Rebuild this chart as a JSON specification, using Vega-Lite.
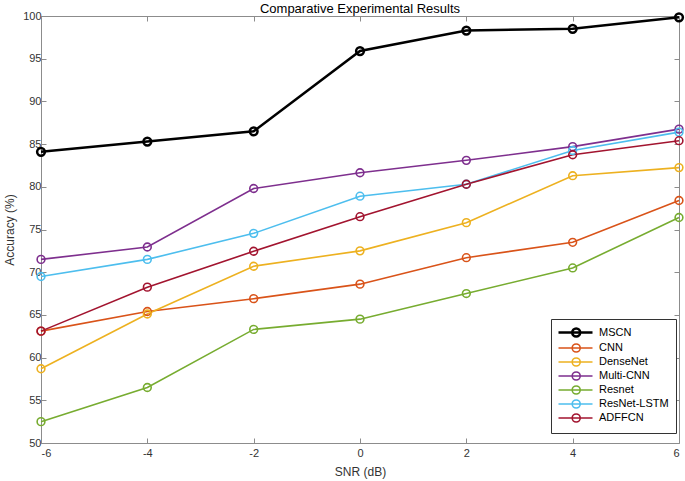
{
  "$schema": "https://vega.github.io/schema/vega-lite/v6.json",
  "autosize": {"type": "none"},
  "width": 638,
  "height": 427,
  "padding": {"left": 41, "top": 16, "right": 6, "bottom": 38},
  "title": {"text": "Comparative Experimental Results", "fontSize": 13, "fontWeight": "normal", "font": "Liberation Sans", "color": "#000000", "offset": -8},
  "config": {
    "font": "Liberation Sans",
    "view": {"stroke": null},
    "axis": {"grid": false, "domainColor": "#8c8c8c", "tickColor": "#8c8c8c", "labelColor": "#333333", "titleColor": "#333333", "labelFontSize": 11, "titleFontSize": 12, "titleFontWeight": "normal", "tickSize": -5, "labelPadding": 5}
  },
  "data": {"values": [
    {"snr": -6, "acc": 84.1, "model": "MSCN"},
    {"snr": -4, "acc": 85.3, "model": "MSCN"},
    {"snr": -2, "acc": 86.5, "model": "MSCN"},
    {"snr": 0, "acc": 95.9, "model": "MSCN"},
    {"snr": 2, "acc": 98.3, "model": "MSCN"},
    {"snr": 4, "acc": 98.5, "model": "MSCN"},
    {"snr": 6, "acc": 99.85, "model": "MSCN"},
    {"snr": -6, "acc": 63.1, "model": "CNN"},
    {"snr": -4, "acc": 65.4, "model": "CNN"},
    {"snr": -2, "acc": 66.9, "model": "CNN"},
    {"snr": 0, "acc": 68.6, "model": "CNN"},
    {"snr": 2, "acc": 71.7, "model": "CNN"},
    {"snr": 4, "acc": 73.5, "model": "CNN"},
    {"snr": 6, "acc": 78.4, "model": "CNN"},
    {"snr": -6, "acc": 58.7, "model": "DenseNet"},
    {"snr": -4, "acc": 65.1, "model": "DenseNet"},
    {"snr": -2, "acc": 70.7, "model": "DenseNet"},
    {"snr": 0, "acc": 72.5, "model": "DenseNet"},
    {"snr": 2, "acc": 75.8, "model": "DenseNet"},
    {"snr": 4, "acc": 81.3, "model": "DenseNet"},
    {"snr": 6, "acc": 82.25, "model": "DenseNet"},
    {"snr": -6, "acc": 71.5, "model": "Multi-CNN"},
    {"snr": -4, "acc": 72.95, "model": "Multi-CNN"},
    {"snr": -2, "acc": 79.8, "model": "Multi-CNN"},
    {"snr": 0, "acc": 81.65, "model": "Multi-CNN"},
    {"snr": 2, "acc": 83.1, "model": "Multi-CNN"},
    {"snr": 4, "acc": 84.7, "model": "Multi-CNN"},
    {"snr": 6, "acc": 86.75, "model": "Multi-CNN"},
    {"snr": -6, "acc": 52.5, "model": "Resnet"},
    {"snr": -4, "acc": 56.5, "model": "Resnet"},
    {"snr": -2, "acc": 63.3, "model": "Resnet"},
    {"snr": 0, "acc": 64.5, "model": "Resnet"},
    {"snr": 2, "acc": 67.5, "model": "Resnet"},
    {"snr": 4, "acc": 70.5, "model": "Resnet"},
    {"snr": 6, "acc": 76.4, "model": "Resnet"},
    {"snr": -6, "acc": 69.5, "model": "ResNet-LSTM"},
    {"snr": -4, "acc": 71.5, "model": "ResNet-LSTM"},
    {"snr": -2, "acc": 74.55, "model": "ResNet-LSTM"},
    {"snr": 0, "acc": 78.9, "model": "ResNet-LSTM"},
    {"snr": 2, "acc": 80.3, "model": "ResNet-LSTM"},
    {"snr": 4, "acc": 84.25, "model": "ResNet-LSTM"},
    {"snr": 6, "acc": 86.4, "model": "ResNet-LSTM"},
    {"snr": -6, "acc": 63.1, "model": "ADFFCN"},
    {"snr": -4, "acc": 68.25, "model": "ADFFCN"},
    {"snr": -2, "acc": 72.45, "model": "ADFFCN"},
    {"snr": 0, "acc": 76.5, "model": "ADFFCN"},
    {"snr": 2, "acc": 80.3, "model": "ADFFCN"},
    {"snr": 4, "acc": 83.75, "model": "ADFFCN"},
    {"snr": 6, "acc": 85.4, "model": "ADFFCN"}
  ]},
  "encoding": {
    "x": {"field": "snr", "type": "quantitative", "scale": {"domain": [-6, 6], "nice": false, "zero": false}},
    "y": {"field": "acc", "type": "quantitative", "scale": {"domain": [50, 100], "nice": false, "zero": false}},
    "color": {"field": "model", "type": "nominal", "sort": null,
      "scale": {"domain": ["MSCN", "CNN", "DenseNet", "Multi-CNN", "Resnet", "ResNet-LSTM", "ADFFCN"],
                "range": ["#000000", "#D95319", "#EDB120", "#7E2F8E", "#77AC30", "#4DBEEE", "#A2142F"]}},
    "strokeWidth": {"field": "model", "type": "nominal", "legend": null,
      "scale": {"type": "ordinal", "domain": ["MSCN", "CNN", "DenseNet", "Multi-CNN", "Resnet", "ResNet-LSTM", "ADFFCN"],
                "range": [2.5, 1.6, 1.6, 1.6, 1.6, 1.6, 1.6]}}
  },
  "layer": [
    {
      "mark": {"type": "line"},
      "encoding": {
        "x": {"field": "snr", "type": "quantitative", "title": "SNR (dB)",
          "axis": {"values": [-6, -4, -2, 0, 2, 4, 6], "labelExpr": "replace(datum.label, '−', '-')", "labelPadding": 9, "titlePadding": 8}},
        "y": {"field": "acc", "type": "quantitative", "title": "Accuracy (%)",
          "axis": {"values": [50, 55, 60, 65, 70, 75, 80, 85, 90, 95, 100], "titlePadding": 6}},
        "color": {"field": "model", "type": "nominal", "sort": null,
          "legend": {"title": null, "orient": "none", "legendX": 510, "legendY": 303,
            "fillColor": "#ffffff", "strokeColor": "#333333", "padding": 7,
            "symbolType": "M-1.2,0L5.6,0M1.54,0A0.8,0.8 0 1,0 3.14,0A0.8,0.8 0 1,0 1.54,0",
            "symbolSize": 100, "symbolStrokeWidth": 1.5, "symbolFillColor": "transparent",
            "labelOffset": 28, "labelFontSize": 11, "labelColor": "#000000", "rowPadding": -3.1, "symbolOffset": 0}}
      }
    },
    {
      "mark": {"type": "point", "filled": false, "size": 60, "opacity": 1},
      "encoding": {
        "x": {"field": "snr", "type": "quantitative", "axis": {"orient": "top", "labels": false, "title": null, "values": [-6, -4, -2, 0, 2, 4, 6]}},
        "y": {"field": "acc", "type": "quantitative", "axis": {"orient": "right", "labels": false, "title": null, "values": [50, 55, 60, 65, 70, 75, 80, 85, 90, 95, 100]}}
      }
    }
  ],
  "resolve": {"axis": {"x": "independent", "y": "independent"}}
}
